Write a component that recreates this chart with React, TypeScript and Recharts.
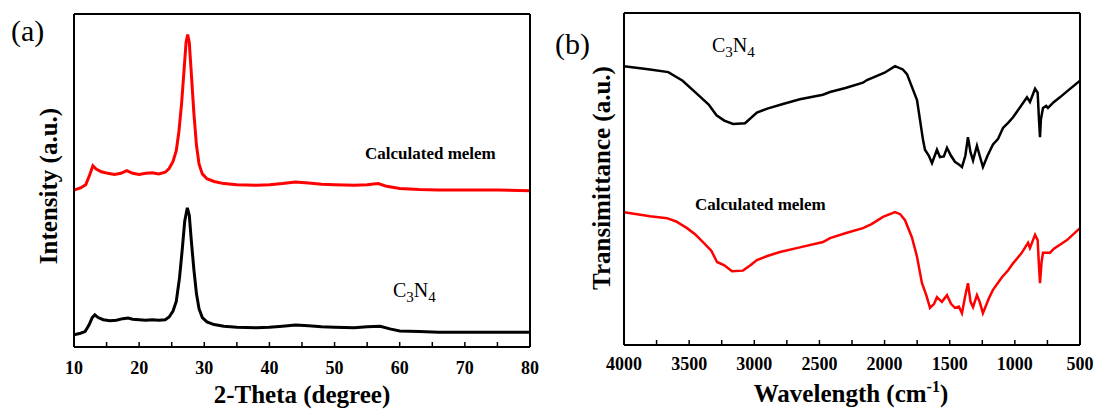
import React from 'react';
import { LineChart, Line, XAxis, YAxis } from 'recharts';

const SERIF = '"Liberation Serif", "Times New Roman", Times, serif';

// ---- (a) XRD patterns: 2-theta (degree) vs intensity (a.u.) ----
const xrdAngleC3N4 = [
  10, 11, 11.7, 12.3, 12.8, 13.2, 13.7, 14.5, 15.5, 16.5, 17.5, 18.3, 19, 20, 21, 22, 23, 24,
  24.6, 25.2, 25.7, 26.2, 26.6, 27.0, 27.4, 27.7, 28.0, 28.4, 28.8, 29.2, 29.7, 30.4, 31.5,
  33, 35, 38, 40, 42, 44, 46, 48, 50, 53, 55, 57, 58.5, 60, 63, 66, 70, 75, 80,
];
const xrdIntensityC3N4 = [
  0.04, 0.07, 0.1, 0.22, 0.36, 0.41, 0.36, 0.32, 0.3, 0.31, 0.34, 0.35, 0.33, 0.32, 0.31, 0.32, 0.31, 0.32,
  0.37, 0.48, 0.66, 1.1, 1.6, 2.15, 2.39, 2.25, 1.8, 1.25, 0.8, 0.52, 0.36, 0.28, 0.23,
  0.2, 0.18, 0.17, 0.18, 0.2, 0.22, 0.21, 0.19, 0.18, 0.17, 0.19, 0.2, 0.15, 0.11, 0.1, 0.09, 0.09, 0.09, 0.09,
];
const xrdAngleMelem = [
  10, 11, 11.8, 12.4, 12.9, 13.4, 14.2, 15.2, 16.2, 17.2, 18.1, 19, 20, 21, 22, 23, 24,
  24.6, 25.2, 25.7, 26.1, 26.5, 26.9, 27.2, 27.45, 27.7, 28.0, 28.4, 28.8, 29.2, 29.7, 30.4, 31.5,
  33, 35, 38, 40, 42, 44, 46, 48, 50, 53, 55, 56.7, 58, 60, 63, 66, 70, 75, 80,
];
const xrdIntensityMelem = [
  2.72, 2.76, 2.82, 3.0, 3.17, 3.11, 3.06, 3.03, 3.01, 3.03, 3.08, 3.03, 3.01, 3.03, 3.04, 3.02, 3.05,
  3.12, 3.25, 3.45, 3.8, 4.3, 4.95, 5.45, 5.6, 5.45, 4.9, 4.15, 3.55, 3.2, 3.02, 2.93, 2.88,
  2.84, 2.82, 2.81, 2.82, 2.84, 2.87, 2.85, 2.83, 2.82, 2.81, 2.82, 2.84, 2.79, 2.75, 2.73, 2.72, 2.72, 2.72, 2.71,
];
const xrdTicks = [10, 15, 20, 25, 30, 35, 40, 45, 50, 55, 60, 65, 70, 75, 80];
const xrdTickLabels = [10, 20, 30, 40, 50, 60, 70, 80];
const xrdYTicks = [0, 1, 2, 3, 4, 5];

// ---- (b) FTIR spectra: wavenumber (cm-1) vs transmittance (a.u.) ----
const irWaveC3N4 = [
  4000, 3800, 3660, 3550, 3450, 3350, 3290, 3230, 3163, 3071, 2980, 2900, 2780, 2650, 2473, 2419,
  2300, 2166, 2135, 2000, 1920, 1860, 1828, 1751, 1705, 1690, 1660, 1636, 1598, 1575, 1545, 1521,
  1490, 1460, 1430, 1406, 1380, 1360, 1340, 1321, 1291, 1270, 1245, 1210, 1168, 1130, 1091, 1050,
  1014, 960, 907, 884, 845, 825, 815, 807, 800, 784, 760, 746, 700, 654, 600, 500,
];
const irTransC3N4 = [
  4.2, 4.15, 4.11, 3.98, 3.8, 3.62, 3.46, 3.38, 3.33, 3.34, 3.5, 3.56, 3.63, 3.7, 3.77, 3.81,
  3.87, 3.95, 3.99, 4.1, 4.2, 4.15, 4.08, 3.69, 3.09, 2.94, 2.85, 2.74, 2.94, 2.83, 2.84, 2.97,
  2.85, 2.76, 2.72, 2.68, 2.85, 3.13, 2.9, 2.78, 3.0, 2.85, 2.68, 2.85, 3.02, 3.1, 3.27, 3.35,
  3.43, 3.58, 3.73, 3.66, 3.86, 3.8, 3.4, 3.13, 3.4, 3.57, 3.6, 3.57, 3.66, 3.73, 3.82, 3.98,
];
const irWaveMelem = [
  4000, 3800, 3670, 3600, 3516, 3450, 3394, 3330, 3286, 3230, 3171, 3087, 3030, 2980, 2900, 2803,
  2650, 2473, 2419, 2289, 2166, 2100, 2012, 1920, 1880, 1843, 1790, 1751, 1713, 1680, 1651, 1620,
  1598, 1560, 1521, 1490, 1460, 1430, 1406, 1380, 1360, 1340, 1321, 1291, 1270, 1245, 1200, 1168,
  1099, 1050, 1014, 950, 899, 884, 845, 825, 815, 807, 795, 784, 730, 700, 654, 600, 500,
];
const irTransMelem = [
  2.0, 1.94, 1.91, 1.86, 1.76, 1.66, 1.55, 1.42, 1.25, 1.2, 1.11, 1.12, 1.2, 1.28, 1.34, 1.4,
  1.47, 1.55, 1.61, 1.69, 1.76, 1.82, 1.93, 2.0, 1.97, 1.88, 1.62, 1.33, 0.93, 0.75, 0.56, 0.62,
  0.72, 0.65, 0.75, 0.62, 0.56, 0.58, 0.48, 0.75, 0.93, 0.65, 0.57, 0.75, 0.65, 0.48, 0.7, 0.83,
  1.02, 1.13, 1.23, 1.38, 1.54, 1.46, 1.66, 1.58, 1.2, 0.93, 1.25, 1.39, 1.39, 1.45, 1.51, 1.58, 1.76,
];
const irTicks = [500, 750, 1000, 1250, 1500, 1750, 2000, 2250, 2500, 2750, 3000, 3250, 3500, 3750, 4000];
const irTickLabels = [500, 1000, 1500, 2000, 2500, 3000, 3500, 4000];
const irYTicks = [1, 2, 3, 4];

const toPoints = (xs: number[], ys: number[]) => xs.map((x, i) => ({ x, y: ys[i] }));

const axisLine = { stroke: '#000', strokeWidth: 2 };
const tickLine = { stroke: '#000', strokeWidth: 1.5 };
const tickFont = { fill: '#000', fontSize: 18, fontWeight: 'bold', fontFamily: SERIF };

const frameAxes = (
  id: string,
  domain: [number, number],
  ticks: number[],
  labels: number[],
  yDomain: [number, number],
  yTicks: number[],
  margin: number,
  reversed = false,
) => [
  <XAxis
    key="xb"
    xAxisId={`${id}b`}
    dataKey="x"
    type="number"
    domain={domain}
    ticks={ticks}
    interval={0}
    reversed={reversed}
    allowDataOverflow
    height={1}
    tickSize={-5}
    tickMargin={margin}
    axisLine={axisLine}
    tickLine={tickLine}
    tick={tickFont}
    tickFormatter={(v: number) => (labels.includes(v) ? String(v) : '')}
  />,
  <XAxis
    key="xt"
    xAxisId={`${id}t`}
    orientation="top"
    dataKey="x"
    type="number"
    domain={domain}
    ticks={ticks}
    interval={0}
    reversed={reversed}
    allowDataOverflow
    height={1}
    tickSize={-5}
    axisLine={axisLine}
    tickLine={tickLine}
    tick={false}
  />,
  <YAxis
    key="yl"
    yAxisId={`${id}l`}
    type="number"
    domain={yDomain}
    ticks={yTicks}
    interval={0}
    allowDataOverflow
    width={1}
    tickSize={-5}
    axisLine={axisLine}
    tickLine={tickLine}
    tick={false}
  />,
  <YAxis
    key="yr"
    yAxisId={`${id}r`}
    orientation="right"
    type="number"
    domain={yDomain}
    ticks={yTicks}
    interval={0}
    allowDataOverflow
    width={1}
    tickSize={-5}
    axisLine={axisLine}
    tickLine={tickLine}
    tick={false}
  />,
];

const titleStyle = { fontFamily: SERIF, fontWeight: 'bold' as const, fontSize: 25, fill: '#000' };
const noteStyle = { fontFamily: SERIF, fontWeight: 'bold' as const, fontSize: 17, fill: '#000' };
const formulaStyle = { fontFamily: SERIF, fontSize: 20, fill: '#000' };

const Formula = ({ x, y }: { x: number; y: number }) => (
  <text x={x} y={y} style={formulaStyle}>
    C
    <tspan dy={5} fontSize={15}>3</tspan>
    <tspan dy={-5}>N</tspan>
    <tspan dy={5} fontSize={15}>4</tspan>
  </text>
);

export default function App() {
  return (
    <div style={{ position: 'absolute', left: 0, top: 0, width: 1098, height: 414, background: '#fff' }}>
      <div style={{ position: 'absolute', left: 0, top: 0 }}>
        <LineChart width={550} height={414} margin={{ top: 13, right: 19, bottom: 66, left: 73 }}>
          {frameAxes('a', [10, 80], xrdTicks, xrdTickLabels, [-0.185, 5.98], xrdYTicks, 19)}
          <Line
            xAxisId="ab"
            yAxisId="al"
            data={toPoints(xrdAngleMelem, xrdIntensityMelem)}
            dataKey="y"
            type="linear"
            stroke="#ff0000"
            strokeWidth={3}
            dot={false}
            isAnimationActive={false}
          />
          <Line
            xAxisId="ab"
            yAxisId="al"
            data={toPoints(xrdAngleC3N4, xrdIntensityC3N4)}
            dataKey="y"
            type="linear"
            stroke="#000"
            strokeWidth={3}
            dot={false}
            isAnimationActive={false}
          />
        </LineChart>
      </div>
      <div style={{ position: 'absolute', left: 550, top: 0 }}>
        <LineChart width={548} height={414} margin={{ top: 12, right: 17, bottom: 68, left: 73 }}>
          {frameAxes('b', [500, 4000], irTicks, irTickLabels, [0, 5], irYTicks, 17, true)}
          <Line
            xAxisId="bb"
            yAxisId="bl"
            data={toPoints(irWaveC3N4, irTransC3N4)}
            dataKey="y"
            type="linear"
            stroke="#000"
            strokeWidth={2.5}
            dot={false}
            isAnimationActive={false}
          />
          <Line
            xAxisId="bb"
            yAxisId="bl"
            data={toPoints(irWaveMelem, irTransMelem)}
            dataKey="y"
            type="linear"
            stroke="#ff0000"
            strokeWidth={2.5}
            dot={false}
            isAnimationActive={false}
          />
        </LineChart>
      </div>
      <svg
        width={1098}
        height={414}
        style={{ position: 'absolute', left: 0, top: 0, pointerEvents: 'none' }}
      >
        {/* panel letters */}
        <text x={11} y={41} style={{ fontFamily: SERIF, fontSize: 30, fill: '#000' }}>(a)</text>
        <text x={555} y={54} style={{ fontFamily: SERIF, fontSize: 30, fill: '#000' }}>(b)</text>

        {/* axis titles */}
        <text x={302} y={403} textAnchor="middle" style={titleStyle}>2-Theta (degree)</text>
        <text transform="translate(57,186) rotate(-90)" textAnchor="middle" style={titleStyle}>
          Intensity (a.u.)
        </text>
        <text x={851} y={402} textAnchor="middle" style={titleStyle}>
          Wavelength (cm
          <tspan dy={-10} fontSize={16}>-1</tspan>
          <tspan dy={10}>)</tspan>
        </text>
        <text transform="translate(610,178) rotate(-90)" textAnchor="middle" style={titleStyle}>
          Transimittance (a.u.)
        </text>

        {/* series annotations */}
        <text x={365} y={159} style={noteStyle}>Calculated melem</text>
        <Formula x={393} y={297} />
        <Formula x={712} y={52} />
        <text x={695} y={210} style={noteStyle}>Calculated melem</text>
      </svg>
    </div>
  );
}
